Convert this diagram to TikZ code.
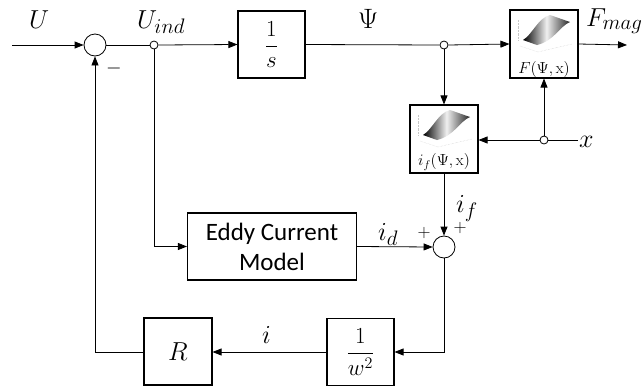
\RequirePackage{fix-cm}
\documentclass[tikz,border=0pt]{standalone}
\usepackage{amsmath}
\usepackage{fontspec}
\newfontfamily\carlito{Carlito}
\DeclareMathSizes{26}{26}{21}{17}
\usetikzlibrary{arrows.meta,calc}
\tikzset{
  line/.style={line width=0.8pt},
  arr/.style={line width=0.8pt,-{Triangle[length=9pt,width=7pt]}},
  blk/.style={draw,line width=1.1pt,fill=white,inner sep=0pt},
  sumc/.style={draw,circle,line width=0.8pt,fill=white,minimum size=22pt,inner sep=0pt},
  junc/.style={draw,circle,line width=0.8pt,fill=white,minimum size=8pt,inner sep=0pt},
  lab/.style={font=\fontsize{26}{30}\selectfont,inner sep=0pt,anchor=base west},
  small/.style={font=\fontsize{16}{18}\selectfont,inner sep=0pt},
  surf/.pic={
    \draw[gray!45,densely dotted,line width=0.4pt] (-26,-4) -- (-26,-24);
    \draw[gray!45,densely dotted,line width=0.4pt] (-24,2) -- (-6,8) -- (28,0);
    \shade[left color=black,right color=black!85,middle color=gray!12]
      (-21,-4) .. controls (-12,-9) and (-6,-26) .. (6,-29)
      -- (26,-22) .. controls (16,-18) and (10,-3) .. (-7,1) -- cycle;
  }
}
\begin{document}
\begin{tikzpicture}[x=1pt,y=-1pt]
\useasboundingbox (0,0) rectangle (643,389);
% blocks
\node[sumc] (sum1) at (95,45) {};
\node[junc] (j1) at (154,45) {};
\node[blk,minimum width=67pt,minimum height=67pt] (intg) at (271.5,44.5)
  {\fontsize{23}{26}\selectfont$\dfrac{1}{s}$};
\node[junc] (j2) at (444,45) {};
\node[blk,minimum width=68pt,minimum height=68pt] (fbox) at (544,44) {};
\pic at (544,44) {surf};
\node[small] (flab) at (544,69) {$F(\Psi,\mathrm{x})$};
\node[blk,minimum width=68pt,minimum height=68pt] (ifbox) at (444,139) {};
\pic at (444,139) {surf};
\node[small] (iflab) at (444,162) {$i_f(\Psi,\mathrm{x})$};
\node[junc] (jx) at (544,140) {};
\node[sumc] (sum2) at (444,247) {};
\node[blk,minimum width=169pt,minimum height=67pt,align=center,
  font=\carlito\fontsize{25}{30}\selectfont] (eddy) at (272,246.5) {Eddy Current\\Model};
\node[blk,minimum width=67pt,minimum height=67pt] (wbox) at (360.5,352)
  {\fontsize{23}{26}\selectfont$\dfrac{1}{w^2}$};
\node[blk,minimum width=68pt,minimum height=67pt] (rbox) at (178,351.5)
  {\fontsize{26}{30}\selectfont$R$};
% free ends
\coordinate (uin) at (12,45);
\coordinate (fout) at (627,45);
\coordinate (xin) at (578,140);
% connectors
\draw[arr] (uin) -- (sum1.west);
\draw[line] (sum1.east) -- (j1.west);
\draw[arr] (j1.east) -- (intg.west);
\draw[line] (intg.east) -- (j2.west);
\draw[arr] (j2.east) -- (fbox.west);
\draw[arr] (fbox.east) -- (fout);
\draw[arr] (j2.south) -- (ifbox.north);
\draw[line] (xin) -- (jx.east);
\draw[arr] (jx.west) -- (ifbox.east |- jx);
\draw[arr] (jx.north) -- (fbox.south);
\draw[arr] (ifbox.south) -- (sum2.north);
\draw[arr] (j1.south) |- (eddy.west);
\draw[arr] (eddy.east) -- (sum2.west);
\draw[arr] (sum2.south) |- (wbox.east |- 0,352);
\draw[arr] (wbox.west |- 0,352) -- (rbox.east |- 0,352);
\draw[arr] (rbox.west |- 0,352) -| (sum1.south);
% labels
\node[lab] (lU) at (29,28) {$U$};
\node[lab] (lUind) at (137,28) {$U_{ind}$};
\node[lab,font=\fontsize{28}{30}\selectfont] (lPsi) at (358,28) {$\Psi$};
\node[lab] (lF) at (586,26) {$F_{mag}$};
\node[lab] (lx) at (579,147) {$x$};
\node[lab] (lif) at (456,212) {$i_f$};
\node[lab] (lid) at (378,240) {$i_d$};
\node[small,font=\fontsize{18}{20}\selectfont] (p1) at (424,233) {$+$};
\node[small,font=\fontsize{18}{20}\selectfont] (p2) at (460,228) {$+$};
\node[small,font=\fontsize{20}{22}\selectfont] (m1) at (114,68) {$-$};
\node[lab] (li) at (262,343) {$i$};
\end{tikzpicture}
\end{document}
